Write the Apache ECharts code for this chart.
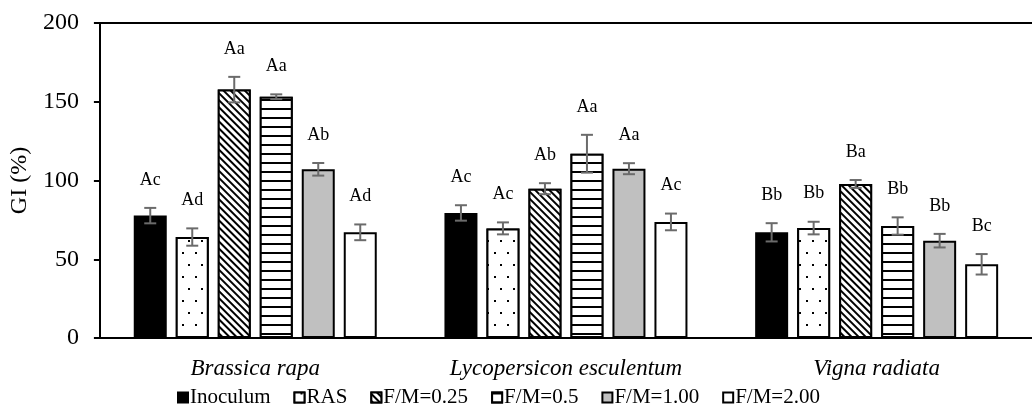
<!DOCTYPE html>
<html>
<head>
<meta charset="utf-8">
<script src="https://cdn.jsdelivr.net/npm/echarts@6/dist/echarts.min.js"></script>
<style>
  html, body { margin: 0; padding: 0; background: #fff; }
  #gi_figure { width: 1032px; height: 412px; }
</style>
</head>
<body>
<div id="gi_figure"></div>
<script>
var categories = ['Brassica rapa', 'Lycopersicon esculentum', 'Vigna radiata'];
var seriesNames = ['Inoculum', 'RAS', 'F/M=0.25', 'F/M=0.5', 'F/M=1.00', 'F/M=2.00'];
var yTicks = [0, 50, 100, 150, 200];

// GI values (%)
var inoculum = [77.7, 79.4, 67.1];
var ras = [64.1, 69.6, 69.8];
var fm025 = [157.7, 94.8, 97.8];
var fm05 = [153.2, 117.0, 71.1];
var fm100 = [107.1, 107.5, 61.8];
var fm200 = [67.1, 73.7, 46.8];

// standard deviations
var errInoculum = [4.9, 4.9, 5.8];
var errRas = [5.5, 3.8, 4.0];
var errFm025 = [8.1, 3.5, 2.5];
var errFm05 = [1.5, 12.0, 5.5];
var errFm100 = [4.0, 3.5, 4.3];
var errFm200 = [5.0, 5.3, 6.5];

// significance letters
var lettersInoculum = ['Ac', 'Ac', 'Bb'];
var lettersRas = ['Ad', 'Ac', 'Bb'];
var lettersFm025 = ['Aa', 'Ab', 'Ba'];
var lettersFm05 = ['Aa', 'Aa', 'Bb'];
var lettersFm100 = ['Ab', 'Aa', 'Bb'];
var lettersFm200 = ['Ad', 'Ac', 'Bc'];

var values = [inoculum, ras, fm025, fm05, fm100, fm200];
var errors = [errInoculum, errRas, errFm025, errFm05, errFm100, errFm200];
var letters = [lettersInoculum, lettersRas, lettersFm025, lettersFm05, lettersFm100, lettersFm200];

var FONT = '"Liberation Serif", "DejaVu Serif", serif';
var BAR_W = 33;
var GAP = 9;

var styles = [
    { color: '#000000', borderColor: '#000', borderWidth: 2 },
    { color: '#ffffff', borderColor: '#000', borderWidth: 2,
      decal: { symbol: 'rect', symbolSize: 1, color: '#000', backgroundColor: '#fff',
               dashArrayX: [[2, 11], [0, 6, 2, 5]], dashArrayY: [2, 10], rotation: 0 } },
    { color: '#ffffff', borderColor: '#000', borderWidth: 2,
      decal: { symbol: 'rect', symbolSize: 1, color: '#000', backgroundColor: '#fff',
               dashArrayX: [[1, 0]], dashArrayY: [1.5, 2.5], rotation: Math.PI / 4 } },
    { color: '#ffffff', borderColor: '#000', borderWidth: 2,
      decal: { symbol: 'rect', symbolSize: 1, color: '#000', backgroundColor: '#fff',
               dashArrayX: [[1, 0]], dashArrayY: [2, 6.5], rotation: 0 } },
    { color: '#c0c0c0', borderColor: '#000', borderWidth: 2 },
    { color: '#ffffff', borderColor: '#000', borderWidth: 2 }
];

var myChart = echarts.init(document.getElementById('gi_figure'));

var series = [];
seriesNames.forEach(function (name, k) {
    series.push({
        name: name,
        type: 'bar',
        barWidth: BAR_W,
        barGap: (GAP / BAR_W * 100) + '%',
        itemStyle: styles[k],
        data: values[k]
    });
});

// error bars and letters
seriesNames.forEach(function (name, k) {
    var data = values[k].map(function (v, i) {
        return [i, v, errors[k][i], letters[k][i]];
    });
    series.push({
        type: 'custom',
        name: name,
        z: 10,
        silent: true,
        data: data,
        encode: { x: 0, y: 1 },
        renderItem: function (params, api) {
            var i = api.value(0);
            var v = api.value(1);
            var e = api.value(2);
            var total = seriesNames.length * BAR_W + (seriesNames.length - 1) * GAP;
            var off = -total / 2 + k * (BAR_W + GAP) + BAR_W / 2;
            var hi = api.coord([i, v + e]);
            var lo = api.coord([i, v - e]);
            var x = hi[0] + off;
            var cap = 6;
            var lineStyle = { stroke: '#6b6b6b', lineWidth: 2 };
            return {
                type: 'group',
                children: [
                    { type: 'line', shape: { x1: x, y1: hi[1], x2: x, y2: lo[1] }, style: lineStyle },
                    { type: 'line', shape: { x1: x - cap, y1: hi[1], x2: x + cap, y2: hi[1] }, style: lineStyle },
                    { type: 'line', shape: { x1: x - cap, y1: lo[1], x2: x + cap, y2: lo[1] }, style: lineStyle },
                    { type: 'text', x: x, y: hi[1] - 28,
                      style: { text: api.value(3), fill: '#000', font: '18px ' + FONT,
                               align: 'center', verticalAlign: 'middle' } }
                ]
            };
        }
    });
});

option = {
    animation: false,
    grid: {
        left: 92,
        top: 23,
        width: 951,
        height: 315
    },
    legend: {
        data: seriesNames,
        left: 172,
        top: 382,
        icon: 'rect',
        itemWidth: 10,
        itemHeight: 10,
        itemGap: 23,
        textStyle: { fontFamily: FONT, fontSize: 21, color: '#000', padding: [0, 0, 0, -3] }
    },
    xAxis: [
        {
            type: 'category',
            data: categories,
            axisLine: { lineStyle: { color: '#000', width: 2 } },
            axisTick: { show: false },
            axisLabel: { fontFamily: FONT, fontSize: 23, fontStyle: 'italic', color: '#000', margin: 19 }
        },
        {
            type: 'category',
            position: 'top',
            data: categories,
            axisLine: { show: true, lineStyle: { color: '#000', width: 2 } },
            axisTick: { show: false },
            axisLabel: { show: false }
        }
    ],
    yAxis: {
        type: 'value',
        min: yTicks[0],
        max: yTicks[yTicks.length - 1],
        interval: 50,
        name: 'GI (%)',
        nameLocation: 'middle',
        nameGap: 59,
        nameTextStyle: { fontFamily: FONT, fontSize: 24, color: '#000' },
        axisLine: { show: true, lineStyle: { color: '#000', width: 2 } },
        axisTick: { show: true, length: 6, lineStyle: { color: '#000', width: 2 } },
        axisLabel: { fontFamily: FONT, fontSize: 24, color: '#000', margin: 21 },
        splitLine: { show: false }
    },
    series: series
};
myChart.setOption(option);
</script>
</body>
</html>
